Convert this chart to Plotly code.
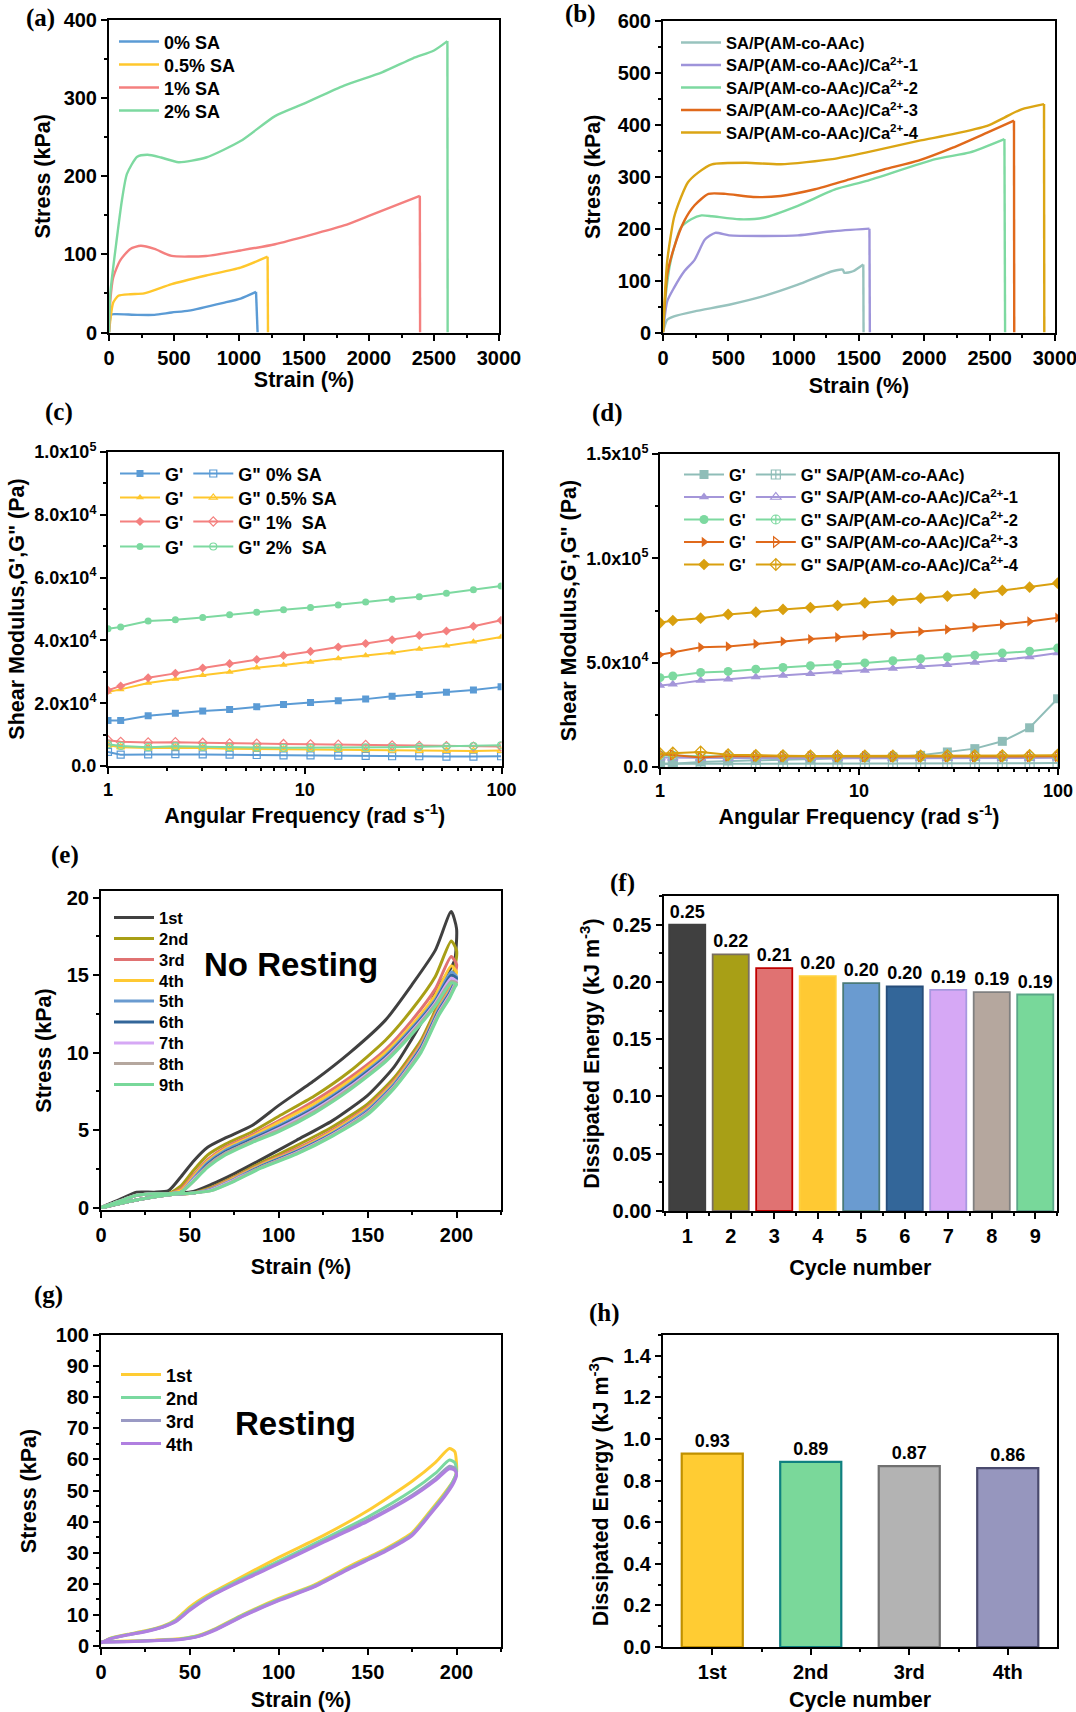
import plotly.graph_objects as go

W, H = 1076, 1712
SANS = "Liberation Sans"
SERIF = "Liberation Serif"

# ======================= (a) tensile, SA content =======================
# last point of each series is the fracture drop to zero
A_NAMES = ["0% SA", "0.5% SA", "1% SA", "2% SA"]
A_COLORS = ["#5B9BD5", "#FFC72C", "#F4807F", "#7DD9A0"]
A_X_SA0 = [0, 18, 58, 217, 350, 482, 615, 880, 1012, 1131, 1143]
A_Y_SA0 = [0, 23, 23.5, 22.6, 22.6, 25.6, 28, 38, 43.5, 52, 0]
A_X_SA05 = [0, 32, 72, 164, 270, 482, 747, 1012, 1220, 1223]
A_Y_SA05 = [0, 38, 47, 49, 50, 62, 73, 83, 97, 0]
A_X_SA1 = [0, 10, 32, 85, 164, 244, 350, 482, 747, 1012, 1277, 1808, 1994, 2391, 2393]
A_Y_SA1 = [0, 40, 70, 92, 107, 111, 107, 98, 98, 105, 113, 137, 149, 175, 0]
A_X_SA2 = [0, 10, 60, 100, 138, 217, 297, 400, 535, 747, 1012, 1277, 1500, 1808, 2100, 2338, 2500, 2603, 2605]
A_Y_SA2 = [0, 50, 120, 170, 203, 225, 227.5, 224, 218, 224, 245, 277, 293, 316, 333, 351, 361, 373, 0]

# ======================= (b) tensile, Ca2+ =======================
B_NAMES = ["SA/P(AM-co-AAc)", "SA/P(AM-co-AAc)/Ca<sup>2+</sup>-1", "SA/P(AM-co-AAc)/Ca<sup>2+</sup>-2",
           "SA/P(AM-co-AAc)/Ca<sup>2+</sup>-3", "SA/P(AM-co-AAc)/Ca<sup>2+</sup>-4"]
B_COLORS = ["#98C3BE", "#9E94DA", "#7DD9A0", "#E0691B", "#DBA514"]
B_X_0 = [0, 32, 84, 242, 506, 769, 1032, 1296, 1375, 1388, 1454, 1533, 1535]
B_Y_0 = [0, 24.5, 31, 40.6, 53.5, 70, 92, 118, 121, 115, 118, 131, 0]
B_X_1 = [0, 32, 84, 163, 242, 321, 400, 506, 769, 1032, 1296, 1580, 1583]
B_Y_1 = [0, 60, 86, 118, 140, 179, 192, 187, 186, 187, 195, 200, 0]
B_X_2 = [0, 20, 58, 137, 216, 295, 374, 585, 769, 1032, 1322, 1559, 2086, 2350, 2613, 2618]
B_Y_2 = [0, 70, 137, 202, 218, 225.6, 224, 218, 221, 244, 276, 292, 334, 347, 372.5, 0]
B_X_3 = [0, 32, 84, 163, 242, 348, 480, 690, 901, 1164, 1427, 1691, 1954, 2218, 2481, 2686, 2688]
B_Y_3 = [0, 111, 163, 215, 245, 267, 267, 261, 263, 276, 295, 314, 331, 356, 385, 408, 0]
B_X_4 = [0, 32, 84, 137, 190, 269, 374, 637, 901, 1296, 1559, 1954, 2218, 2481, 2613, 2744, 2916, 2918]
B_Y_4 = [0, 137, 221, 260, 289, 308, 324, 327, 324, 334, 347, 369, 382, 398, 414, 430, 440, 0]

# ======================= (c) rheology, SA content =======================
FREQ = [1.0, 1.16, 1.6, 2.2, 3.03, 4.15, 5.7, 7.8, 10.7, 14.8, 20.4, 27.8, 38.2, 52.5, 72.0, 99.5]
C_NAMES = ["0% SA", "0.5% SA", "1%  SA", "2%  SA"]
C_GP_0 = [14500, 14500, 16000, 16800, 17500, 18000, 18900, 19600, 20200, 20800, 21300, 22200, 22800, 23500, 24200, 25200]
C_GP_05 = [23600, 24400, 26400, 27700, 28900, 29900, 31300, 32200, 33100, 34200, 35200, 36100, 37300, 38300, 39600, 41100]
C_GP_1 = [24100, 25500, 28100, 29500, 31200, 32600, 33900, 35200, 36500, 37900, 39000, 40200, 41600, 43000, 44500, 46400]
C_GP_2 = [43700, 44300, 46200, 46600, 47300, 48200, 49000, 49800, 50500, 51300, 52200, 53100, 53900, 55000, 56100, 57300]
C_GPP_0 = [4500, 3600, 3700, 3800, 3700, 3600, 3500, 3400, 3400, 3300, 3200, 3100, 3100, 3000, 3000, 3100]
C_GPP_05 = [6600, 6000, 5700, 5800, 5700, 5500, 5400, 5300, 5300, 5200, 5100, 5000, 4900, 4900, 4800, 4900]
C_GPP_1 = [8200, 7700, 7500, 7600, 7400, 7200, 7100, 7000, 6900, 6800, 6700, 6600, 6400, 6300, 6200, 6200]
C_GPP_2 = [6900, 6400, 6000, 6300, 6100, 5900, 5900, 5800, 5800, 5800, 5900, 6000, 6100, 6200, 6300, 6600]
C_YTICKS = [0, 20000, 40000, 60000, 80000, 100000]
C_YTEXT = ["0.0", "2.0x10<sup>4</sup>", "4.0x10<sup>4</sup>", "6.0x10<sup>4</sup>", "8.0x10<sup>4</sup>", "1.0x10<sup>5</sup>"]

# ======================= (d) rheology, Ca2+ =======================
D_NAMES = ["SA/P(AM-<i>co</i>-AAc)", "SA/P(AM-<i>co</i>-AAc)/Ca<sup>2+</sup>-1", "SA/P(AM-<i>co</i>-AAc)/Ca<sup>2+</sup>-2",
           "SA/P(AM-<i>co</i>-AAc)/Ca<sup>2+</sup>-3", "SA/P(AM-<i>co</i>-AAc)/Ca<sup>2+</sup>-4"]
D_COLORS = ["#8FBDB8", "#A496D9", "#7DD9A0", "#E0691B", "#D9A00F"]
D_GP_0 = [1600, 1600, 2400, 2900, 3200, 3500, 3800, 4100, 4500, 4800, 5600, 7200, 8800, 12300, 18800, 32700]
D_GP_1 = [39100, 39600, 41500, 42100, 43100, 43900, 44700, 45500, 46300, 47200, 48000, 49000, 50100, 51400, 52700, 54600]
D_GP_2 = [42800, 43600, 45300, 45800, 46900, 47700, 48500, 49100, 49900, 50900, 51900, 52700, 53500, 54600, 55500, 57000]
D_GP_3 = [53800, 54900, 57400, 57800, 59000, 60200, 61300, 62200, 63000, 64000, 64900, 65900, 67000, 68300, 69700, 71500]
D_GP_4 = [69100, 70200, 71300, 73100, 74200, 75500, 76400, 77400, 78700, 79800, 80900, 81900, 83100, 84600, 86200, 88100]
D_GPP_0 = [1500, 1500, 1600, 1600, 1600, 1600, 1600, 1600, 1600, 1600, 1700, 1700, 1700, 1800, 1800, 1900]
D_GPP_1 = [4500, 4400, 4300, 4300, 4300, 4200, 4200, 4200, 4200, 4200, 4200, 4200, 4200, 4300, 4300, 4400]
D_GPP_2 = [5600, 5400, 5200, 5200, 5100, 5100, 5000, 5000, 5000, 5000, 5000, 5000, 5000, 5000, 5100, 5200]
D_GPP_3 = [6100, 5800, 4500, 5300, 5200, 5100, 5100, 5000, 5000, 5000, 5000, 5000, 5000, 5000, 5000, 5100]
D_GPP_4 = [6400, 6700, 7200, 5900, 5500, 5400, 5300, 5300, 5300, 5300, 5300, 5400, 5400, 5400, 5500, 5600]
D_YTICKS = [0, 50000, 100000, 150000]
D_YTEXT = ["0.0", "5.0x10<sup>4</sup>", "1.0x10<sup>5</sup>", "1.5x10<sup>5</sup>"]

# ======================= (e) cyclic loading, no resting =======================
E_NAMES = ["1st", "2nd", "3rd", "4th", "5th", "6th", "7th", "8th", "9th"]
E_COLORS = ["#404040", "#A89F16", "#E07272", "#FFC933", "#6A9BD0", "#336699", "#D6A8F5", "#B5A79E", "#78D89A"]
E_LOAD_X = [0, 10, 20, 30, 38, 45, 52, 60, 70, 85, 100, 120, 140, 160, 175, 188, 197]
E_TURN_X = 200
E_UNLOAD_X = [199, 196, 190, 180, 165, 150, 130, 110, 90, 75, 62, 52, 40, 20, 0]
E_LOAD = [
    [0, 0.5, 1.0, 1.0, 1.1, 2.0, 3.0, 3.9, 4.5, 5.3, 6.6, 8.2, 10.0, 12.1, 14.4, 16.6, 19.1],
    [0, 0.4, 0.8, 0.9, 0.9, 1.4, 2.4, 3.4, 4.1, 4.9, 5.9, 7.2, 8.8, 10.8, 12.8, 14.9, 17.2],
    [0, 0.4, 0.8, 0.9, 0.9, 1.2, 2.1, 3.1, 3.9, 4.7, 5.6, 6.9, 8.4, 10.2, 12.1, 14.1, 16.2],
    [0, 0.4, 0.8, 0.9, 0.9, 1.1, 2.0, 3.0, 3.8, 4.6, 5.5, 6.7, 8.2, 10.0, 11.8, 13.7, 15.6],
    [0, 0.4, 0.8, 0.9, 0.9, 1.0, 1.9, 2.9, 3.7, 4.5, 5.3, 6.5, 8.0, 9.8, 11.6, 13.4, 15.2],
    [0, 0.4, 0.8, 0.9, 0.9, 1.0, 1.8, 2.8, 3.6, 4.4, 5.2, 6.4, 7.9, 9.7, 11.5, 13.3, 15.0],
    [0, 0.4, 0.8, 0.9, 0.9, 1.0, 1.8, 2.7, 3.5, 4.3, 5.1, 6.3, 7.8, 9.6, 11.4, 13.2, 14.8],
    [0, 0.4, 0.8, 0.9, 0.9, 1.0, 1.7, 2.7, 3.5, 4.3, 5.0, 6.2, 7.7, 9.5, 11.3, 13.1, 14.6],
    [0, 0.4, 0.8, 0.9, 0.9, 1.0, 1.7, 2.6, 3.4, 4.2, 4.9, 6.1, 7.6, 9.4, 11.2, 13.0, 14.5],
]
E_TURN = [18.0, 16.6, 15.7, 15.2, 14.9, 14.8, 14.6, 14.5, 14.4]
E_UNLOAD = [
    [16.0, 15.3, 14.3, 11.9, 9.1, 7.25, 5.6, 4.35, 3.1, 2.2, 1.5, 1.05, 0.9, 0.5, 0],
    [15.5, 14.4, 13.2, 10.8, 8.4, 6.7, 5.2, 4.0, 2.9, 2.0, 1.3, 0.95, 0.85, 0.5, 0],
    [15.0, 14.2, 13.0, 10.6, 8.2, 6.5, 5.0, 3.8, 2.8, 1.95, 1.25, 0.95, 0.85, 0.5, 0],
    [14.8, 14.0, 12.9, 10.5, 8.1, 6.4, 4.9, 3.7, 2.75, 1.9, 1.2, 0.95, 0.85, 0.5, 0],
    [14.6, 13.9, 12.8, 10.4, 8.0, 6.3, 4.8, 3.65, 2.7, 1.85, 1.2, 0.95, 0.85, 0.5, 0],
    [14.5, 13.8, 12.7, 10.3, 7.9, 6.2, 4.75, 3.6, 2.65, 1.8, 1.15, 0.95, 0.85, 0.5, 0],
    [14.4, 13.7, 12.6, 10.2, 7.85, 6.15, 4.7, 3.55, 2.6, 1.8, 1.15, 0.95, 0.85, 0.5, 0],
    [14.3, 13.6, 12.5, 10.1, 7.8, 6.1, 4.65, 3.5, 2.6, 1.75, 1.1, 0.95, 0.85, 0.5, 0],
    [14.2, 13.5, 12.4, 10.0, 7.7, 6.0, 4.6, 3.45, 2.55, 1.7, 1.1, 0.95, 0.85, 0.5, 0],
]

# ======================= (f) dissipated energy, no resting =======================
F_CYCLE = [1, 2, 3, 4, 5, 6, 7, 8, 9]
F_ENERGY = [0.250, 0.224, 0.212, 0.205, 0.199, 0.196, 0.193, 0.191, 0.189]
F_LABELS = ["0.25", "0.22", "0.21", "0.20", "0.20", "0.20", "0.19", "0.19", "0.19"]
F_FILL = ["#404040", "#A89F16", "#E07272", "#FFC933", "#6A9BD0", "#336699", "#D6A8F5", "#B5A79E", "#78D89A"]
F_EDGE = ["#404040", "#7A6F60", "#C00000", "#FFD23F", "#4A7A78", "#264D7A", "#A898E0", "#808080", "#5AA688"]

# ======================= (g) cyclic loading, resting =======================
G_NAMES = ["1st", "2nd", "3rd", "4th"]
G_COLORS = ["#FFCC33", "#7AD9A0", "#9A9AC4", "#B07FE0"]
G_LOAD_X = [0, 5, 15, 25, 35, 42, 50, 60, 75, 100, 125, 150, 175, 188, 196]
G_TURN_X = 199
G_UNLOAD_X = [200, 198, 193, 185, 175, 160, 140, 120, 100, 80, 65, 55, 45, 30, 15, 0]
G_LOAD = [
    [1.0, 2.5, 3.8, 4.9, 6.5, 8.5, 12.6, 16.4, 21.0, 28.5, 35.5, 43.5, 53.0, 59.0, 63.5],
    [1.0, 2.4, 3.7, 4.8, 6.3, 8.2, 12.0, 15.9, 20.4, 27.3, 34.3, 41.5, 50.0, 55.5, 59.8],
    [1.0, 2.3, 3.6, 4.7, 6.2, 8.0, 11.7, 15.6, 20.0, 26.7, 33.6, 40.5, 48.5, 53.8, 57.8],
    [1.0, 2.3, 3.6, 4.6, 6.1, 7.8, 11.5, 15.4, 19.8, 26.5, 33.3, 40.1, 48.0, 53.2, 57.0],
]
G_TURN = [62.5, 59.0, 57.2, 56.5]
G_UNLOAD = [
    [56.0, 53.0, 49.0, 43.3, 36.5, 31.3, 25.7, 19.7, 15.3, 10.2, 5.8, 3.5, 2.4, 1.9, 1.6, 1.4],
    [56.0, 53.0, 48.5, 42.8, 36.0, 30.9, 25.3, 19.4, 15.0, 10.0, 5.6, 3.3, 2.3, 1.8, 1.5, 1.3],
    [55.5, 52.5, 48.2, 42.5, 35.8, 30.7, 25.1, 19.2, 14.8, 9.8, 5.5, 3.2, 2.2, 1.8, 1.5, 1.3],
    [55.0, 52.0, 47.8, 42.2, 35.5, 30.4, 24.9, 19.0, 14.6, 9.6, 5.3, 3.1, 2.1, 1.7, 1.4, 1.2],
]

# ======================= (h) dissipated energy, resting =======================
H_CYCLE = ["1st", "2nd", "3rd", "4th"]
H_ENERGY = [0.93, 0.89, 0.87, 0.86]
H_LABELS = ["0.93", "0.89", "0.87", "0.86"]
H_FILL = ["#FFCC33", "#7AD89A", "#B3B3B3", "#9696BE"]
H_EDGE = ["#C09000", "#108080", "#707070", "#4A4A6E"]

# ======================= layout helpers =======================
# pixel boxes of the plot areas: (left, right, top, bottom)
BOX = {
    1: (109, 499, 20, 332.5),
    2: (663, 1055, 21, 332.5),
    3: (108, 501.5, 452, 766),
    4: (660, 1058, 454, 767),
    5: (101, 501, 891, 1210),
    6: (663.5, 1057, 896, 1211),
    7: (101, 501, 1335, 1647),
    8: (663, 1057, 1335, 1647),
}


def px_x(v):
    return v / W


def px_y(v):
    return 1 - v / H


def dom(i):
    l, r, t, b = BOX[i]
    return [px_x(l), px_x(r)], [px_y(b), px_y(t)]


def fnt(size, family=SANS, color="black"):
    return dict(family=family, size=size, color=color, weight="bold")


def axis(i, letter, rng, title, standoff, tick_size=20, **kw):
    xd, yd = dom(i)
    d = dict(
        domain=xd if letter == "x" else yd,
        anchor=("y" if letter == "x" else "x") + ("" if i == 1 else str(i)),
        range=rng, showline=True, linewidth=2, linecolor="black", mirror=True,
        ticks="outside", ticklen=6, tickwidth=2, tickcolor="black", automargin=False,
        ticklabeloverflow="allow",
        showgrid=False, zeroline=False, tickfont=fnt(tick_size),
        title=dict(text=title, font=fnt(21.5), standoff=standoff),
    )
    d.update(kw)
    return d


def minor(dtick=None, tick0=0, tickvals=None):
    m = dict(ticks="outside", ticklen=3, tickwidth=1.5, tickcolor="black", showgrid=False)
    if tickvals is not None:
        m["tickvals"] = tickvals
    else:
        m["dtick"] = dtick
        m["tick0"] = tick0
    return m


def xy(i):
    s = "" if i == 1 else str(i)
    return "x" + s, "y" + s


# legends: one legend per row so that row spacing follows the reference
lay = {}
_legend_count = [0]


def new_legend(line_left, center_y, size, orientation="v"):
    _legend_count[0] += 1
    n = _legend_count[0]
    key = "legend" if n == 1 else "legend" + str(n)
    lay[key] = dict(x=px_x(line_left - 5), y=px_y(center_y - 0.65 * size - 7), xanchor="left", yanchor="top",
                    bgcolor="rgba(0,0,0,0)", borderwidth=0, font=fnt(size), tracegroupgap=0,
                    orientation=orientation, itemclick=False, itemdoubleclick=False, itemwidth=40)
    return key


def tensile(xs, ys, name, color, panel, lg):
    """Smooth stress-strain curve plus the straight fracture drop (last point)."""
    xa, ya = xy(panel)
    fig.add_trace(go.Scatter(x=xs[:-1], y=ys[:-1], name=name, mode="lines",
                             line=dict(color=color, width=2.4, shape="spline", smoothing=0.6),
                             legendgroup=name, xaxis=xa, yaxis=ya, legend=lg))
    fig.add_trace(go.Scatter(x=xs[-2:], y=ys[-2:], name=name, mode="lines", showlegend=False,
                             line=dict(color=color, width=2.4), legendgroup=name,
                             xaxis=xa, yaxis=ya, legend=lg))


fig = go.Figure()

# ---- (a)
A_ROWS = [42, 65, 88, 111]
for xs, ys, name, c, cy in zip([A_X_SA0, A_X_SA05, A_X_SA1, A_X_SA2], [A_Y_SA0, A_Y_SA05, A_Y_SA1, A_Y_SA2],
                               A_NAMES, A_COLORS, A_ROWS):
    tensile(xs, ys, name, c, 1, new_legend(119, cy, 18))

# ---- (b)
B_ROWS = [43, 65.5, 88, 110.5, 133]
for xs, ys, name, c, cy in zip([B_X_0, B_X_1, B_X_2, B_X_3, B_X_4], [B_Y_0, B_Y_1, B_Y_2, B_Y_3, B_Y_4],
                               B_NAMES, B_COLORS, B_ROWS):
    tensile(xs, ys, name, c, 2, new_legend(681, cy, 16.5))

# ---- (c)
C_GP = [C_GP_0, C_GP_05, C_GP_1, C_GP_2]
C_GPP = [C_GPP_0, C_GPP_05, C_GPP_1, C_GPP_2]
C_SYM = ["square", "triangle-up", "diamond", "circle"]
C_SYM_OPEN = ["square-open", "triangle-up-open", "diamond-open", "circle-open"]
C_ROWS = [474, 498, 522, 547]
for k in range(4):
    xa, ya = xy(3)
    lg = new_legend(120, C_ROWS[k], 18, "h")
    fig.add_trace(go.Scatter(x=FREQ, y=C_GP[k], name="G'", mode="lines+markers",
                             line=dict(color=A_COLORS[k], width=2),
                             marker=dict(symbol=C_SYM[k], size=7, color=A_COLORS[k]),
                             xaxis=xa, yaxis=ya, legend=lg))
    fig.add_trace(go.Scatter(x=FREQ, y=C_GPP[k], name="G\" " + C_NAMES[k], mode="lines+markers",
                             line=dict(color=A_COLORS[k], width=2),
                             marker=dict(symbol=C_SYM_OPEN[k], size=7, color=A_COLORS[k], line=dict(width=1.2)),
                             xaxis=xa, yaxis=ya, legend=lg))

# ---- (d)
D_GP = [D_GP_0, D_GP_1, D_GP_2, D_GP_3, D_GP_4]
D_GPP = [D_GPP_0, D_GPP_1, D_GPP_2, D_GPP_3, D_GPP_4]
D_SYM = ["square", "triangle-up", "circle", "triangle-right", "diamond"]
D_SYM_OPEN = ["square-cross-open", "triangle-up-open", "circle-cross-open", "triangle-right-open", "diamond-cross-open"]
D_ROWS = [475, 497.5, 520, 542.5, 565]
for k in range(5):
    xa, ya = xy(4)
    lg = new_legend(684, D_ROWS[k], 16.5, "h")
    fig.add_trace(go.Scatter(x=FREQ, y=D_GP[k], name="G'", mode="lines+markers",
                             line=dict(color=D_COLORS[k], width=2),
                             marker=dict(symbol=D_SYM[k], size=9, color=D_COLORS[k]),
                             xaxis=xa, yaxis=ya, legend=lg))
    fig.add_trace(go.Scatter(x=FREQ, y=D_GPP[k], name="G\" " + D_NAMES[k], mode="lines+markers",
                             line=dict(color=D_COLORS[k], width=2),
                             marker=dict(symbol=D_SYM_OPEN[k], size=9, color=D_COLORS[k], line=dict(width=1.2)),
                             xaxis=xa, yaxis=ya, legend=lg))

# ---- (e)
E_ROWS = [918, 939, 960, 981, 1001.5, 1022.5, 1043.5, 1064, 1085]
for k in range(9):
    xa, ya = xy(5)
    fig.add_trace(go.Scatter(x=E_LOAD_X + [E_TURN_X] + E_UNLOAD_X, y=E_LOAD[k] + [E_TURN[k]] + E_UNLOAD[k],
                             name=E_NAMES[k], mode="lines",
                             line=dict(color=E_COLORS[k], width=3, shape="spline", smoothing=0.6),
                             xaxis=xa, yaxis=ya, legend=new_legend(114, E_ROWS[k], 16.5)))

# ---- (f)
xa, ya = xy(6)
fig.add_trace(go.Bar(x=F_CYCLE, y=F_ENERGY, text=F_LABELS, textposition="outside", cliponaxis=False,
                     textfont=fnt(18), width=0.83,
                     marker=dict(color=F_FILL, line=dict(color=F_EDGE, width=1.8)),
                     showlegend=False, xaxis=xa, yaxis=ya))

# ---- (g)
G_ROWS = [1375, 1398, 1421, 1444]
for k in range(4):
    xa, ya = xy(7)
    fig.add_trace(go.Scatter(x=G_LOAD_X + [G_TURN_X] + G_UNLOAD_X, y=G_LOAD[k] + [G_TURN[k]] + G_UNLOAD[k],
                             name=G_NAMES[k], mode="lines",
                             line=dict(color=G_COLORS[k], width=3, shape="spline", smoothing=0.6),
                             xaxis=xa, yaxis=ya, legend=new_legend(121, G_ROWS[k], 18)))

# ---- (h)
xa, ya = xy(8)
fig.add_trace(go.Bar(x=[0, 1, 2, 3], y=H_ENERGY, text=H_LABELS, textposition="outside", cliponaxis=False,
                     textfont=fnt(18), width=0.62,
                     marker=dict(color=H_FILL, line=dict(color=H_EDGE, width=2.2)),
                     showlegend=False, xaxis=xa, yaxis=ya))

# ======================= axes =======================
LOG_MINOR = [2, 3, 4, 5, 6, 7, 8, 9, 20, 30, 40, 50, 60, 70, 80, 90]
lay["xaxis"] = axis(1, "x", [0, 3000], "Strain (%)", 2, dtick=500, tick0=0, minor=minor(250))
lay["yaxis"] = axis(1, "y", [0, 400], "Stress (kPa)", 7, dtick=100, tick0=0, minor=minor(50))
lay["xaxis2"] = axis(2, "x", [0, 3000], "Strain (%)", 10, dtick=500, tick0=0, minor=minor(250))
lay["yaxis2"] = axis(2, "y", [0, 600], "Stress (kPa)", 11, dtick=100, tick0=0, minor=minor(50))
lay["xaxis3"] = axis(3, "x", [0, 2], "Angular Frequency (rad s<sup>-1</sup>)", 6, tick_size=18, type="log",
                     tickvals=[1, 10, 100], ticktext=["1", "10", "100"], minor=minor(tickvals=LOG_MINOR))
lay["yaxis3"] = axis(3, "y", [0, 100000], "Shear Modulus,G',G\" (Pa)", 4, tick_size=18,
                     tickvals=C_YTICKS, ticktext=C_YTEXT, minor=minor(10000))
lay["xaxis4"] = axis(4, "x", [0, 2], "Angular Frequency (rad s<sup>-1</sup>)", 6, tick_size=18, type="log",
                     tickvals=[1, 10, 100], ticktext=["1", "10", "100"], minor=minor(tickvals=LOG_MINOR))
lay["yaxis4"] = axis(4, "y", [0, 150000], "Shear Modulus,G',G\" (Pa)", 4, tick_size=18,
                     tickvals=D_YTICKS, ticktext=D_YTEXT, minor=minor(25000))
lay["xaxis5"] = axis(5, "x", [0, 225], "Strain (%)", 14, dtick=50, tick0=0, minor=minor(25))
lay["yaxis5"] = axis(5, "y", [-0.15, 20.43], "Stress (kPa)", 9, dtick=5, tick0=0, minor=minor(2.5))
lay["xaxis6"] = axis(6, "x", [0.455, 9.5], "Cycle number", 14, dtick=1, tick0=1, minor=minor(0.5, 0.5))
lay["yaxis6"] = axis(6, "y", [0, 0.275], "Dissipated Energy (kJ m<sup>-3</sup>)", 7, dtick=0.05, tick0=0,
                     tickformat=".2f", minor=minor(0.025))
lay["xaxis7"] = axis(7, "x", [0, 225], "Strain (%)", 12, dtick=50, tick0=0, minor=minor(25))
lay["yaxis7"] = axis(7, "y", [-0.3, 100], "Stress (kPa)", 13, dtick=10, tick0=0, minor=minor(5))
lay["xaxis8"] = axis(8, "x", [-0.5, 3.5], "Cycle number", 12, tickvals=[0, 1, 2, 3], ticktext=H_CYCLE,
                     minor=minor(tickvals=[0.5, 1.5, 2.5]))
lay["yaxis8"] = axis(8, "y", [0, 1.5], "Dissipated Energy (kJ m<sup>-3</sup>)", 9, dtick=0.2, tick0=0,
                     tickformat=".1f", minor=minor(0.1))

# ======================= annotations =======================
ann = []
PANEL = [("(a)", 40, 18), ("(b)", 580, 14), ("(c)", 59, 412), ("(d)", 607, 413),
         ("(e)", 65, 855), ("(f)", 622, 883), ("(g)", 48, 1295), ("(h)", 604, 1313)]
for t, px, py in PANEL:
    ann.append(dict(text=t, x=px_x(px), y=px_y(py), xref="paper", yref="paper", showarrow=False,
                    xanchor="center", yanchor="middle", font=fnt(25, SERIF)))
ann.append(dict(text="No Resting", x=px_x(291), y=px_y(965), xref="paper", yref="paper", showarrow=False,
                xanchor="center", yanchor="middle", font=fnt(33)))
ann.append(dict(text="Resting", x=px_x(295), y=px_y(1423), xref="paper", yref="paper", showarrow=False,
                xanchor="center", yanchor="middle", font=fnt(33)))

fig.update_layout(
    template="none",
    width=W, height=H, margin=dict(l=0, r=0, t=0, b=0, pad=0), autosize=False,
    paper_bgcolor="white", plot_bgcolor="white",
    font=dict(family=SANS, color="black"),
    annotations=ann, **lay,
)

fig.write_html("out.html", include_plotlyjs=True, config={"displayModeBar": False},
               post_script="document.body.style.margin='0';document.body.style.overflow='hidden';")
